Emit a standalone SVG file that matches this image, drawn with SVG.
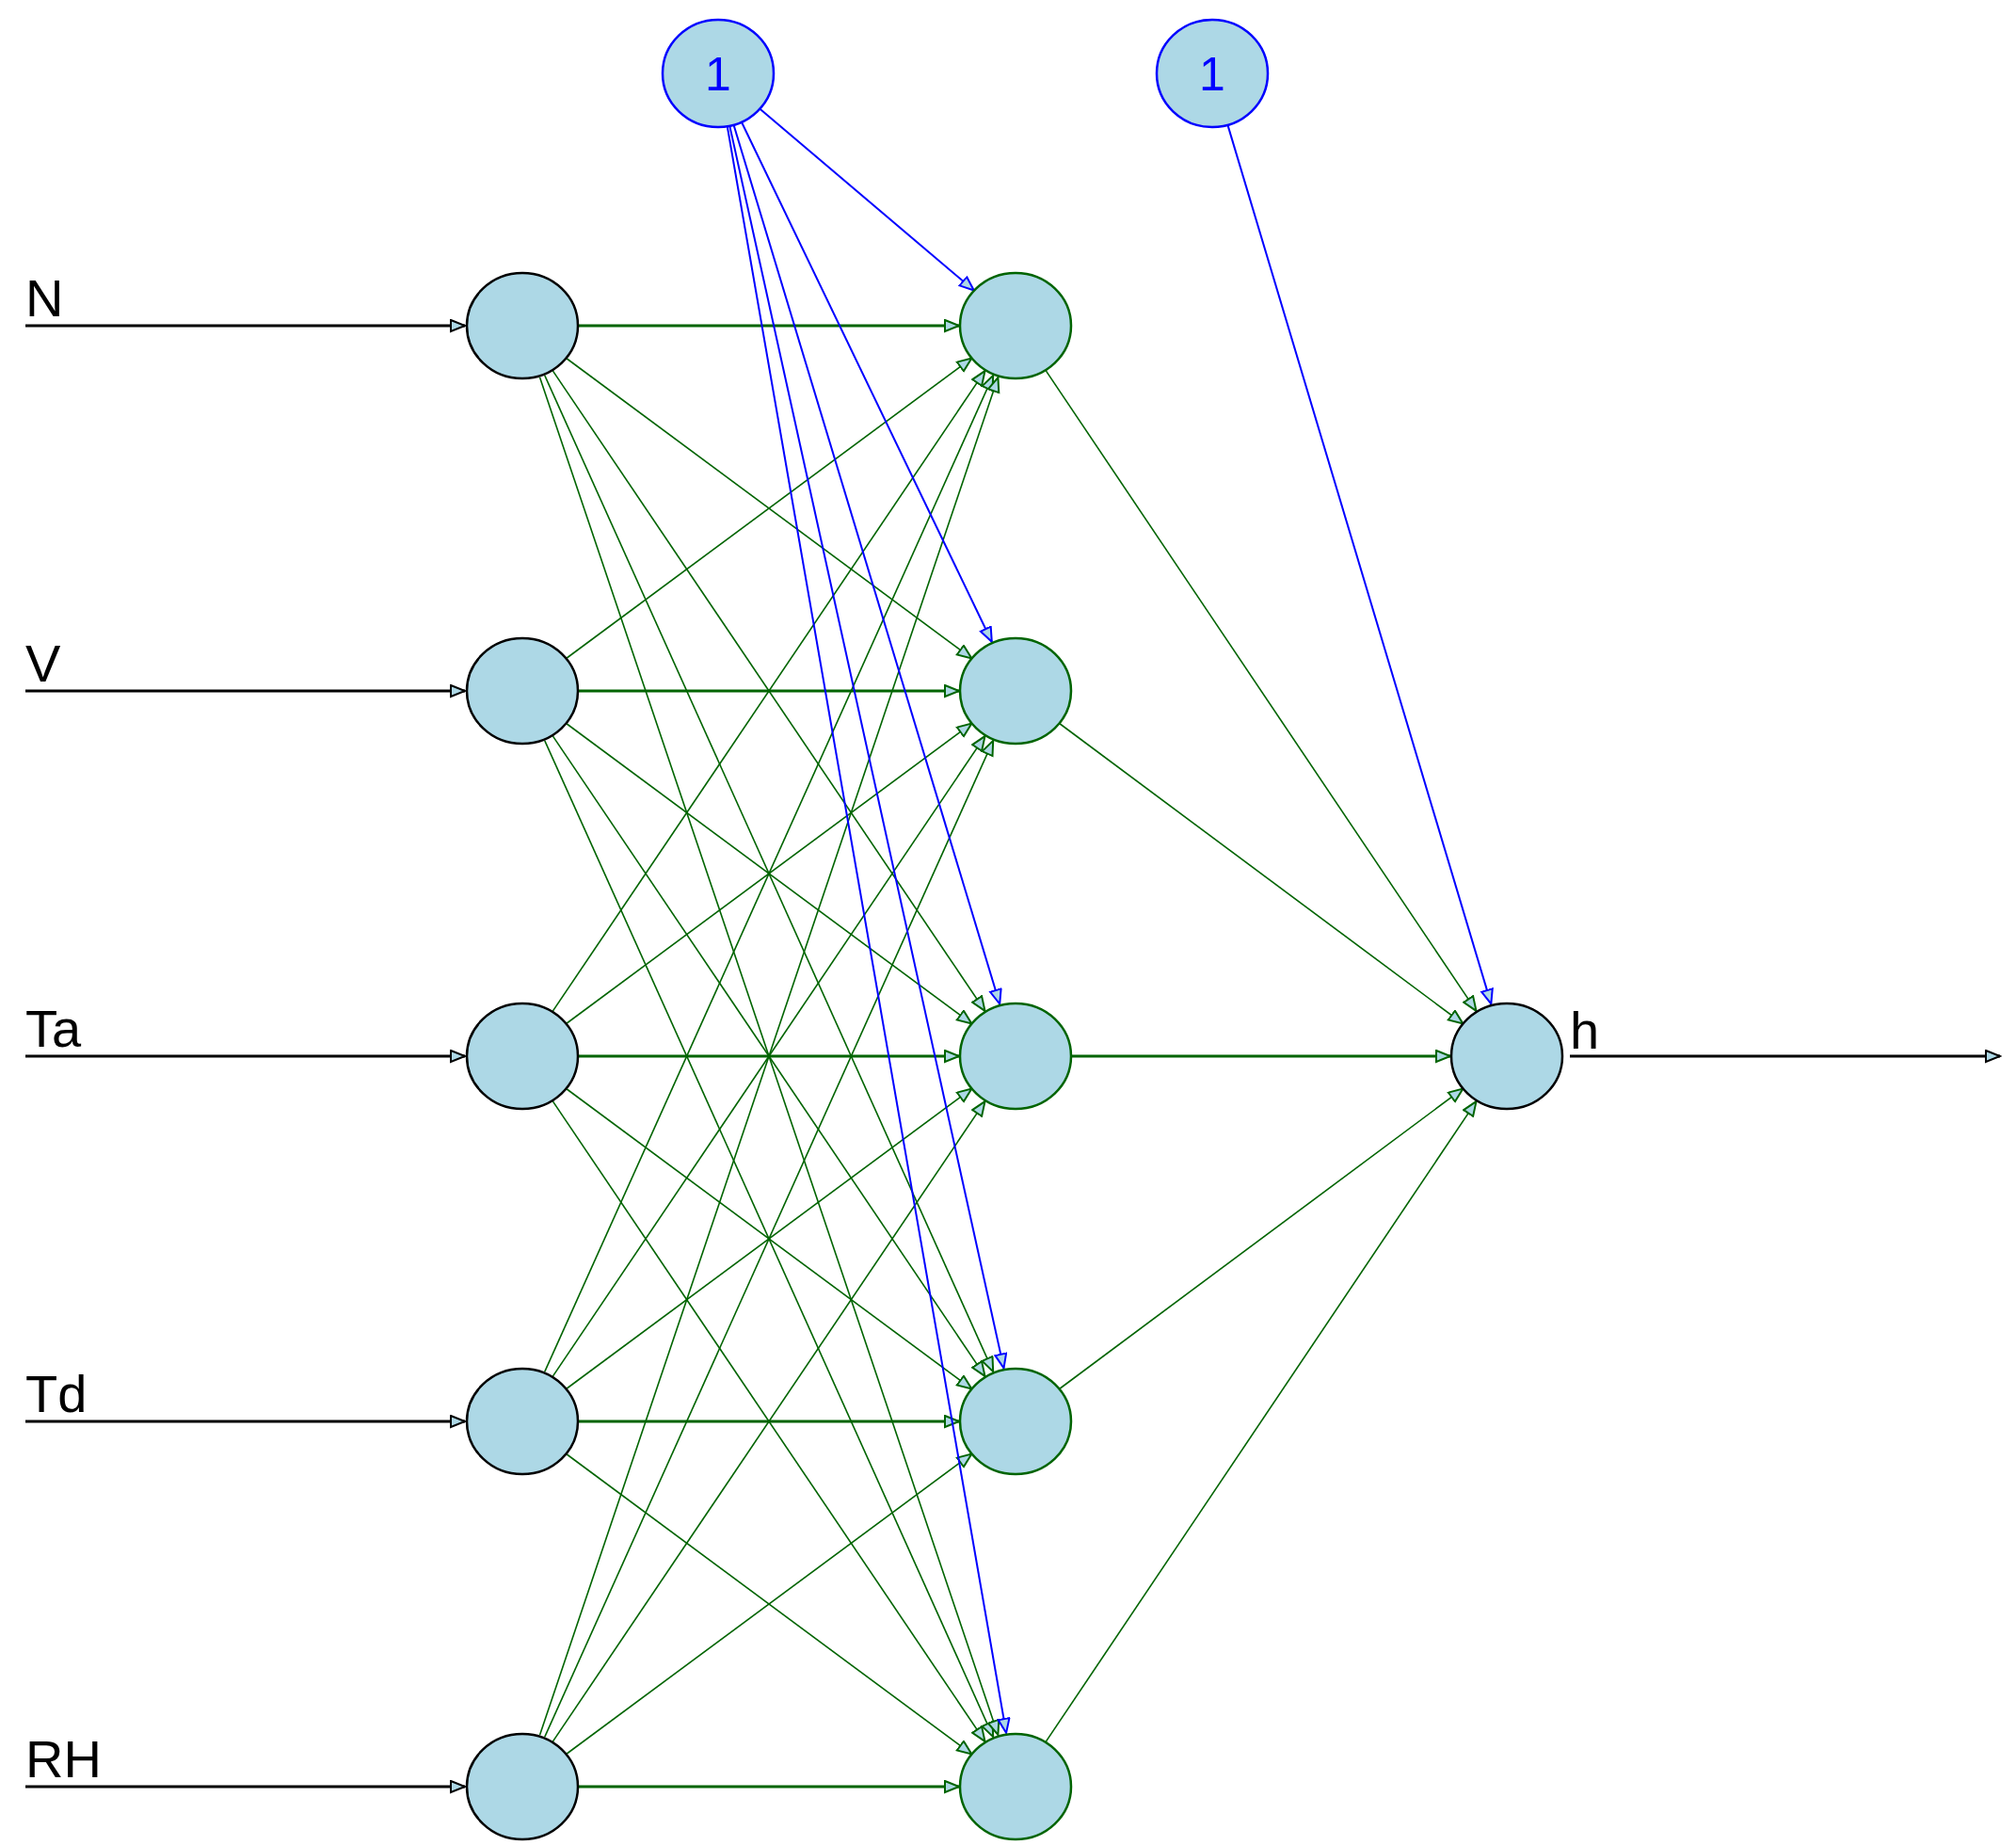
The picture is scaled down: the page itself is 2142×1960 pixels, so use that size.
<svg xmlns="http://www.w3.org/2000/svg" width="2142" height="1960" viewBox="0 0 2142 1960">
<style>
.g{stroke:#006400;stroke-width:1.6;fill:none;marker-end:url(#mg)}
.gh{stroke:#006400;stroke-width:2.8;fill:none;marker-end:url(#mg)}
.b{stroke:#0000ff;stroke-width:2;fill:none;marker-end:url(#mb)}
.k{stroke:#000;stroke-width:2.8;fill:none;marker-end:url(#mk)}
.ni{fill:#add8e6;stroke:#000;stroke-width:2.5}
.nh{fill:#add8e6;stroke:#006400;stroke-width:2.5}
.nb{fill:#add8e6;stroke:#0000ff;stroke-width:2.5}
.t{font-family:"Liberation Sans",Arial,sans-serif;font-size:56px;fill:#000}
.tb{font-family:"Liberation Sans",Arial,sans-serif;font-size:50px;fill:#0000ff;text-anchor:middle}
</style>
<defs>
<marker id="mg" markerUnits="userSpaceOnUse" markerWidth="18" markerHeight="16" refX="16" refY="7" orient="auto"><path d="M1,1 L16,7 L1,13 z" fill="#add8e6" stroke="#006400" stroke-width="2"/></marker>
<marker id="mb" markerUnits="userSpaceOnUse" markerWidth="18" markerHeight="16" refX="16" refY="7" orient="auto"><path d="M1,1 L16,7 L1,13 z" fill="#add8e6" stroke="#0000ff" stroke-width="2"/></marker>
<marker id="mk" markerUnits="userSpaceOnUse" markerWidth="18" markerHeight="16" refX="16" refY="7" orient="auto"><path d="M1,1 L16,7 L1,13 z" fill="#add8e6" stroke="#000" stroke-width="2"/></marker>
</defs>
<rect width="2142" height="1960" fill="#fff"/>
<g id="connectors">
<!-- external inputs -->
<line class="k" x1="27" y1="346" x2="494" y2="346"/>
<line class="k" x1="27" y1="734" x2="494" y2="734"/>
<line class="k" x1="27" y1="1122" x2="494" y2="1122"/>
<line class="k" x1="27" y1="1510" x2="494" y2="1510"/>
<line class="k" x1="27" y1="1898" x2="494" y2="1898"/>
<line class="k" x1="1668" y1="1122" x2="2125" y2="1122"/>
<!-- input to hidden horizontals -->
<line class="gh" x1="613" y1="346" x2="1019" y2="346"/>
<line class="gh" x1="613" y1="734" x2="1019" y2="734"/>
<line class="gh" x1="613" y1="1122" x2="1019" y2="1122"/>
<line class="gh" x1="613" y1="1510" x2="1019" y2="1510"/>
<line class="gh" x1="613" y1="1898" x2="1019" y2="1898"/>
<!-- k=+1 -->
<line class="g" x1="601.6" y1="380.5" x2="1032.4" y2="699.5"/>
<line class="g" x1="601.6" y1="768.5" x2="1032.4" y2="1087.5"/>
<line class="g" x1="601.6" y1="1156.5" x2="1032.4" y2="1475.5"/>
<line class="g" x1="601.6" y1="1544.5" x2="1032.4" y2="1863.5"/>
<!-- k=-1 -->
<line class="g" x1="601.6" y1="699.5" x2="1032.4" y2="380.5"/>
<line class="g" x1="601.6" y1="1087.5" x2="1032.4" y2="768.5"/>
<line class="g" x1="601.6" y1="1475.5" x2="1032.4" y2="1156.5"/>
<line class="g" x1="601.6" y1="1863.5" x2="1032.4" y2="1544.5"/>
<!-- k=+2 -->
<line class="g" x1="587.5" y1="394.1" x2="1046.5" y2="1073.9"/>
<line class="g" x1="587.5" y1="782.1" x2="1046.5" y2="1461.9"/>
<line class="g" x1="587.5" y1="1170.1" x2="1046.5" y2="1849.9"/>
<!-- k=-2 -->
<line class="g" x1="587.5" y1="1073.9" x2="1046.5" y2="394.1"/>
<line class="g" x1="587.5" y1="1461.9" x2="1046.5" y2="782.1"/>
<line class="g" x1="587.5" y1="1849.9" x2="1046.5" y2="1170.1"/>
<!-- k=+3 -->
<line class="g" x1="578.8" y1="398.9" x2="1055.2" y2="1457.1"/>
<line class="g" x1="578.8" y1="786.9" x2="1055.2" y2="1845.1"/>
<!-- k=-3 -->
<line class="g" x1="578.8" y1="1457.1" x2="1055.2" y2="398.9"/>
<line class="g" x1="578.8" y1="1845.1" x2="1055.2" y2="786.9"/>
<!-- k=+-4 -->
<line class="g" x1="573.6" y1="401" x2="1060.4" y2="1843"/>
<line class="g" x1="573.6" y1="1843" x2="1060.4" y2="401"/>
<!-- hidden to output -->
<line class="g" x1="1111.5" y1="394.1" x2="1568.5" y2="1073.9"/>
<line class="g" x1="1125.6" y1="768.5" x2="1554.4" y2="1087.5"/>
<line class="gh" x1="1137" y1="1122" x2="1541" y2="1122"/>
<line class="g" x1="1125.6" y1="1475.5" x2="1554.4" y2="1156.5"/>
<line class="g" x1="1111.5" y1="1849.9" x2="1568.5" y2="1170.1"/>
<!-- bias 1 -->
<line class="b" x1="807.2" y1="115.5" x2="1034.8" y2="308.5"/>
<line class="b" x1="788.2" y1="130.3" x2="1053.8" y2="681.7"/>
<line class="b" x1="779.8" y1="133.5" x2="1062.2" y2="1066.5"/>
<line class="b" x1="775.5" y1="134.6" x2="1066.5" y2="1453.4"/>
<line class="b" x1="772.9" y1="135.1" x2="1069.1" y2="1840.9"/>
<!-- bias 2 -->
<line class="b" x1="1304.7" y1="133.6" x2="1584.3" y2="1066.4"/>
</g>
<g id="bias1"><ellipse class="nb" cx="763" cy="78" rx="59" ry="57"/><text class="tb" x="763" y="96">1</text></g>
<g id="bias2"><ellipse class="nb" cx="1288" cy="78" rx="59" ry="57"/><text class="tb" x="1288" y="96">1</text></g>
<g id="in_N"><ellipse class="ni" cx="555" cy="346" rx="59" ry="56"/><text class="t" x="27" y="336">N</text></g>
<g id="in_V"><ellipse class="ni" cx="555" cy="734" rx="59" ry="56"/><text class="t" x="27" y="724">V</text></g>
<g id="in_Ta"><ellipse class="ni" cx="555" cy="1122" rx="59" ry="56"/><text class="t" x="27" y="1112">Ta</text></g>
<g id="in_Td"><ellipse class="ni" cx="555" cy="1510" rx="59" ry="56"/><text class="t" x="27" y="1500">Td</text></g>
<g id="in_RH"><ellipse class="ni" cx="555" cy="1898" rx="59" ry="56"/><text class="t" x="27" y="1888">RH</text></g>
<g id="h1"><ellipse class="nh" cx="1079" cy="346" rx="59" ry="56"/></g>
<g id="h2"><ellipse class="nh" cx="1079" cy="734" rx="59" ry="56"/></g>
<g id="h3"><ellipse class="nh" cx="1079" cy="1122" rx="59" ry="56"/></g>
<g id="h4"><ellipse class="nh" cx="1079" cy="1510" rx="59" ry="56"/></g>
<g id="h5"><ellipse class="nh" cx="1079" cy="1898" rx="59" ry="56"/></g>
<g id="out"><ellipse class="ni" cx="1601" cy="1122" rx="59" ry="56"/><text class="t" x="1668" y="1114">h</text></g>
</svg>
